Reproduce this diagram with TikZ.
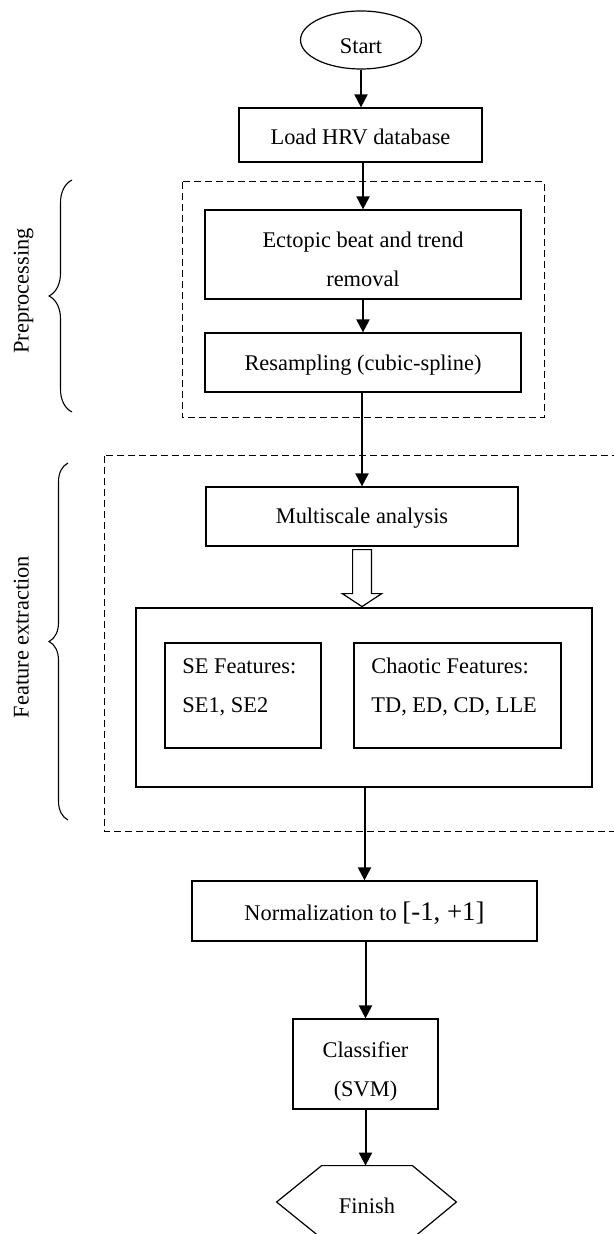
\documentclass[tikz,border=0pt]{standalone}
\usepackage{fontspec}
\setmainfont{Liberation Serif}
\usetikzlibrary{shapes.geometric,arrows.meta,calc,decorations.pathreplacing}
\newcommand\txtat[2]{\raisebox{#1}[0pt][0pt]{#2}}
\begin{document}
\begin{tikzpicture}[x=0.5pt,y=-0.5pt,
  font=\fontsize{11.2}{19.5}\selectfont,
  box/.style={draw, line width=0.6pt, inner sep=0pt},
  flow/.style={line width=1pt, -{Triangle[length=6.5pt,width=6.5pt]}},
  dashbox/.style={draw, line width=0.5pt, dash pattern=on 3.5pt off 2pt},
  bracepath/.style={decorate, line width=0.55pt},
  side/.style={rotate=90, anchor=base, inner sep=0pt},
  hollow/.style={draw, line width=0.6pt, fill=white},
  lefttext/.style={anchor=base west, inner sep=0pt},
]
\useasboundingbox (0,0) rectangle (614,1234);
\clip (0,0) rectangle (614,1234);

% dashed groups
\draw[dashbox] (182,182) rectangle (544,418);
\draw[dashbox] (104,456) rectangle (630,831);

% braces and side labels
\draw[bracepath, decoration={brace, amplitude=11.5pt}] (72,412) -- (72,180);
\draw[bracepath, decoration={brace, amplitude=9.5pt}] (68,820) -- (68,463);
\node[side] (pre) at (28.5,291) {Preprocessing};
\node[side] (fex) at (28.5,637) {Feature extraction};

% nodes
\node[box, ellipse, minimum width=60.5pt, minimum height=29pt] (start) at (361,40) {\txtat{-7pt}{Start}};
\node[box, minimum width=121.5pt, minimum height=27pt] (load) at (360.5,135) {\txtat{-5pt}{Load HRV database}};
\node[box, minimum width=158pt, minimum height=44.5pt] (ectopic) at (363,254.5)
  {\txtat{3.25pt}{\begin{tabular}[t]{@{}c@{}}Ectopic beat and trend\\removal\end{tabular}}};
\node[box, minimum width=158pt, minimum height=29.5pt] (resamp) at (363,362.5) {\txtat{-4.25pt}{Resampling (cubic-spline)}};
\node[box, minimum width=156pt, minimum height=29.5pt] (multi) at (362,516.5) {\txtat{-3.75pt}{Multiscale analysis}};
\node[box, minimum width=228pt, minimum height=89.5pt] (big) at (364,697.5) {};
\node[box, minimum width=78pt, minimum height=52.5pt] (se) at (243,695.5) {};
\node[lefttext] (setext) at (182,673) {\begin{tabular}[t]{@{}l@{}}SE Features:\\SE1, SE2\end{tabular}};
\node[box, minimum width=103.5pt, minimum height=52.5pt] (chaos) at (457.4,695.5) {};
\node[lefttext] (chaostext) at (371,673) {\begin{tabular}[t]{@{}l@{}}Chaotic Features:\\TD, ED, CD, LLE\end{tabular}};
\node[box, minimum width=172.5pt, minimum height=30pt] (norm) at (364.5,911)
  {\txtat{-4.5pt}{Normalization to {\fontsize{13.4}{16}\selectfont[-1, +1]}}};
\node[box, minimum width=72.5pt, minimum height=45pt] (classif) at (365.5,1064)
  {\txtat{3.5pt}{\begin{tabular}[t]{@{}c@{}}Classifier\\(SVM)\end{tabular}}};
\node[minimum width=45pt, minimum height=36pt, inner sep=0pt] (fin) at (367,1202) {\txtat{-5.5pt}{Finish}};
\draw[line width=0.6pt] (fin.north west) -- (fin.north east) -- ($(fin.east)+(44,0)$)
  -- (fin.south east) -- (fin.south west) -- ($(fin.west)+(-45,0)$) -- cycle;

% connectors
\draw[flow] (start.south) -- (start.south |- load.north);
\draw[flow] (load.south -| ectopic.north) -- (ectopic.north);
\draw[flow] (ectopic.south) -- (resamp.north);
\draw[flow] (resamp.south -| multi.north) -- (multi.north);
\draw[hollow] ($(multi.south)+(-9.4,3)$) -- ($(multi.south)+(9.4,3)$) -- ($(multi.south)+(9.4,47)$)
  -- ($(multi.south)+(19.7,47)$) -- ($(multi.south)+(0,60)$) -- ($(multi.south)+(-19.7,47)$)
  -- ($(multi.south)+(-9.4,47)$) -- cycle;
\draw[flow] (big.south -| norm.north) -- (norm.north);
\draw[flow] (norm.south -| classif.north) -- (classif.north);
\draw[flow] (classif.south) -- (classif.south |- fin.north);
\end{tikzpicture}
\end{document}
